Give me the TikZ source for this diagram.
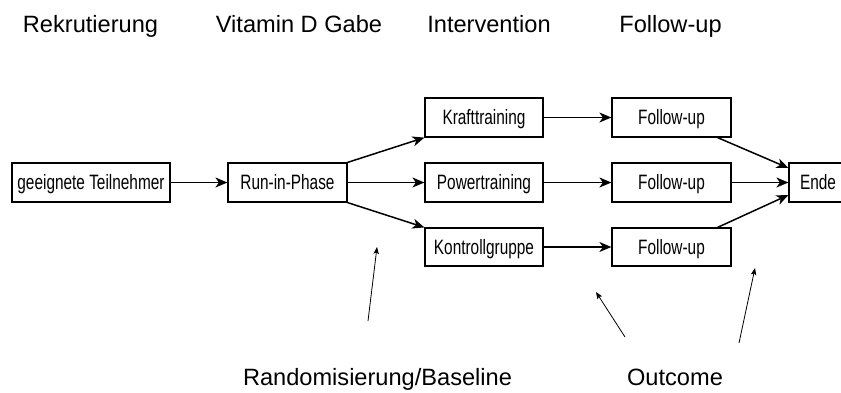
\documentclass[tikz,border=0pt]{standalone}
\usepackage{fontspec}
\setmainfont{Liberation Sans}
\newfontfamily\boxfont[FakeStretch=0.74]{Liberation Sans}
\usetikzlibrary{arrows.meta,calc}
\tikzset{
  stagebox/.style={draw=black, line width=1.2pt, inner sep=0pt,
    minimum height=39pt, font=\boxfont\fontsize{20.8}{24}\selectfont,
    text height=14.9pt, text depth=0pt, align=center},
  flow/.style={line width=1.5pt, -{Stealth[length=12pt,width=10pt,inset=3.5pt]}},
  note/.style={line width=0.8pt, -{Stealth[length=7pt,width=5.5pt,inset=1.5pt]}},
  label/.style={font=\fontsize{23.6}{28}\selectfont, anchor=base, inner sep=0pt}
}
\begin{document}
\begin{tikzpicture}[x=1pt,y=-1pt]
\useasboundingbox (0,0) rectangle (841,392);
\fill[white] (0,0) rectangle (841,392);
\clip (0,0) rectangle (841,392);

% top labels
\node[label] (lrek) at (90.5,32) {Rekrutierung};
\node[label] (lvit) at (299,32) {Vitamin D Gabe};
\node[label] (lint) at (489,32) {Intervention};
\node[label] (lfol) at (670.5,32) {Follow-up};

% bottom labels
\node[label] (lrand) at (377.5,385) {Randomisierung/Baseline};
\node[label] (lout) at (675,385) {Outcome};

% boxes
\node[stagebox, minimum width=158pt] (tn) at (91,182.5) {geeignete Teilnehmer};
\node[stagebox, minimum width=119pt] (run) at (287.5,182.5) {Run-in-Phase};
\node[stagebox, minimum width=118pt] (kraft) at (484,117.5) {Krafttraining};
\node[stagebox, minimum width=118pt] (power) at (484,182.5) {Powertraining};
\node[stagebox, minimum width=118pt, minimum height=38pt] (kontr) at (484,247) {Kontrollgruppe};
\node[stagebox, minimum width=119pt] (fu1) at (671.5,117.5) {Follow-up};
\node[stagebox, minimum width=119pt] (fu2) at (671.5,182.5) {Follow-up};
\node[stagebox, minimum width=119pt, minimum height=38pt] (fu3) at (671.5,247) {Follow-up};
\node[stagebox, minimum width=90pt, text width=90pt, align=left] (ende) at (834,182.5) {\hspace*{11pt}Ende};

% flow arrows
\draw[flow] (tn.east) -- (run.west);
\draw[flow] (run.north east) -- (kraft.south west);
\draw[flow] (run.east) -- (power.west);
\draw[flow] (run.south east) -- (kontr.north west);
\draw[flow] (kraft.east) -- (fu1.west);
\draw[flow] (power.east) -- (fu2.west);
\draw[flow] (kontr.east) -- (fu3.west);
\coordinate (f1s) at ($(fu1.south east)+(-14,0)$);
\coordinate (f3s) at ($(fu3.north east)+(-14,0)$);
\coordinate (e1) at ($(ende.west)+(0,-14.5)$);
\coordinate (e3) at ($(ende.west)+(0,12.5)$);
\draw[flow] (f1s) -- (e1);
\draw[flow] (fu2.east) -- (ende.west);
\draw[flow] (f3s) -- (e3);

% annotation arrows
\coordinate (a1s) at (368,321);
\coordinate (a1e) at (377,247);
\coordinate (a2s) at (625,337);
\coordinate (a2e) at (596,292);
\coordinate (a3s) at (739,343);
\coordinate (a3e) at (755,268);
\draw[note] (a1s) -- (a1e);
\draw[note] (a2s) -- (a2e);
\draw[note] (a3s) -- (a3e);
\end{tikzpicture}
\end{document}
